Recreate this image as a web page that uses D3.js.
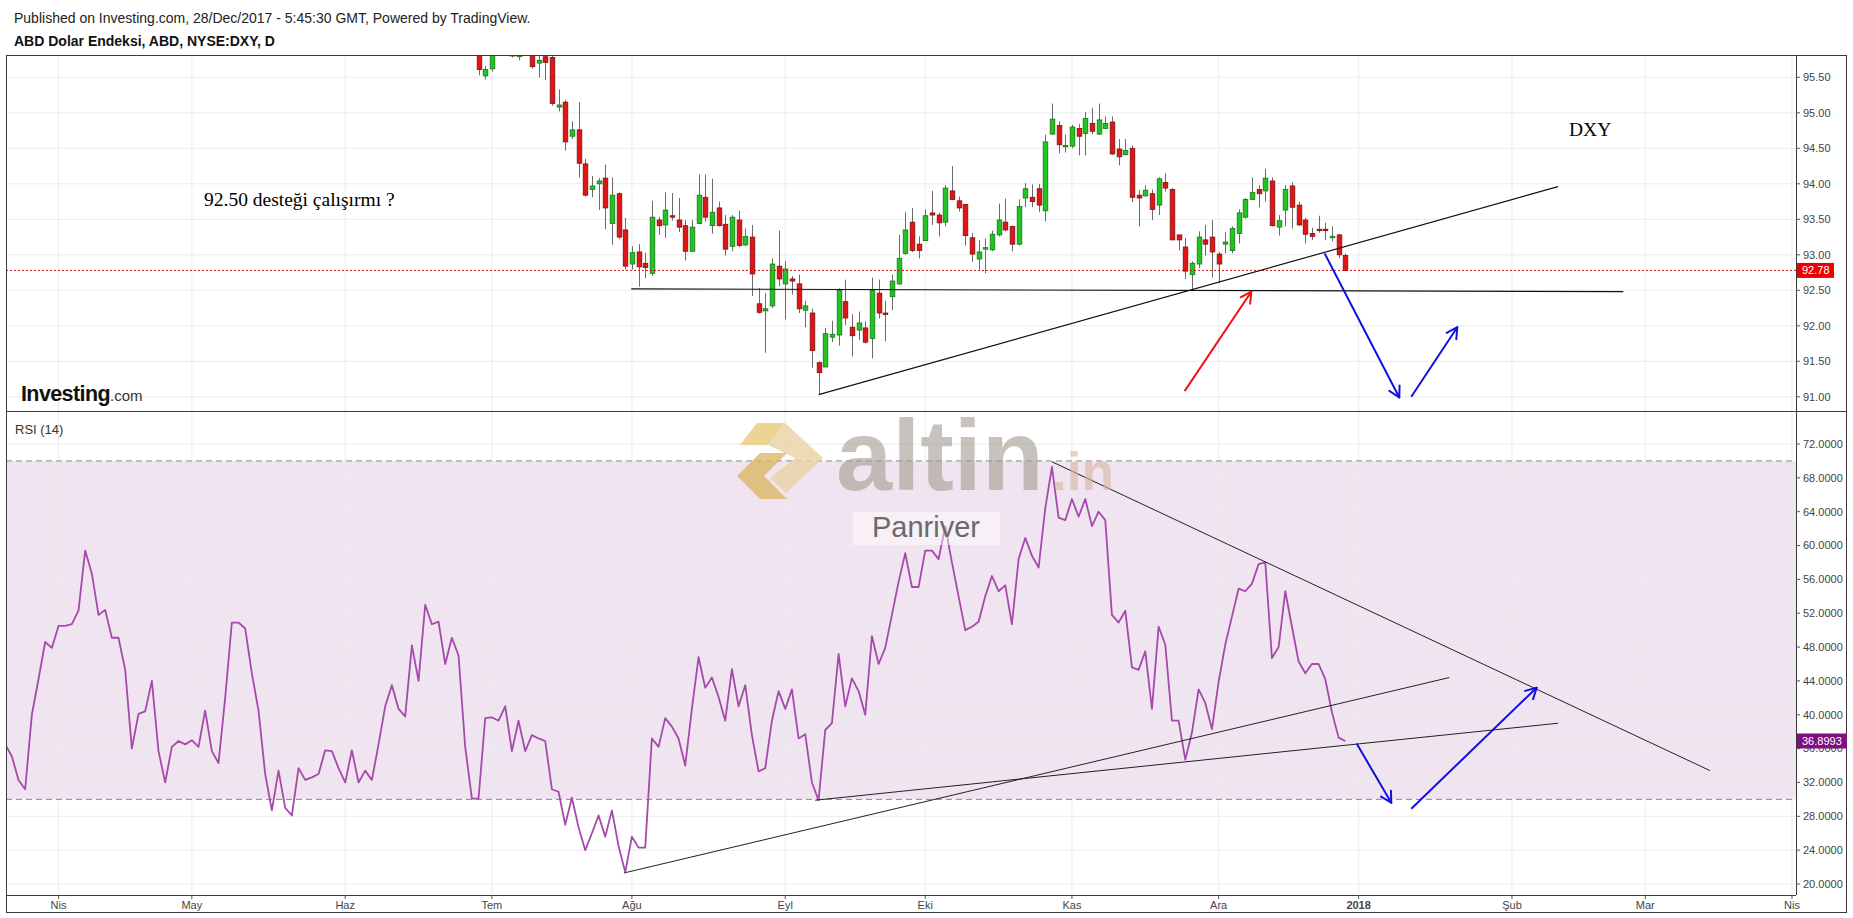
<!DOCTYPE html>
<html><head><meta charset="utf-8">
<script src="https://cdn.jsdelivr.net/npm/d3@7"></script>
<style>
body{margin:0;background:#fff;}
svg{display:block;font-family:Arial,"Liberation Sans",sans-serif;}
</style>
</head><body>
<svg id="c" width="1853" height="918"></svg>
<script>
// ---------------- DATA ----------------
// trading-day index 0 = 2017-04-03 (weekdays only)
const candleStartIndex = 63; // 2017-06-29
const open  = [96.00,95.52,95.62,96.03,96.10,96.25,95.79,95.95,96.00,95.70,95.79,95.78,95.08,95.15,94.67,94.76,94.28,93.92,94.00,94.08,93.44,93.86,93.35,92.87,93.04,92.88,92.74,93.49,93.42,93.55,93.49,93.41,93.05,93.44,93.81,93.41,93.66,93.43,93.12,93.49,93.14,93.25,92.31,92.21,92.28,92.84,92.59,92.66,92.59,92.22,92.18,91.48,91.42,91.84,91.87,92.34,91.98,91.94,91.97,91.82,92.46,92.18,92.41,92.59,93.02,93.46,93.15,93.20,93.59,93.56,93.46,93.90,93.76,93.71,93.24,92.94,93.08,93.07,93.28,93.46,93.40,93.15,93.80,93.81,93.93,93.62,94.70,94.82,94.52,94.53,94.78,94.71,94.85,94.70,94.78,94.87,94.49,94.41,94.50,93.84,93.83,93.86,93.70,94.02,93.92,93.28,93.11,92.72,92.87,93.21,93.25,93.01,93.15,93.06,93.30,93.53,93.78,93.92,93.90,94.04,93.39,93.63,93.97,93.70,93.49,93.30,93.36,93.36,93.24,93.28,92.99];
const high  = [96.10,95.66,96.10,96.20,96.35,96.30,96.05,96.10,96.05,95.80,95.82,95.84,95.33,95.18,94.88,95.15,94.35,94.11,94.08,94.27,94.09,93.88,93.52,93.12,93.15,93.03,93.76,93.53,93.88,93.87,93.80,93.49,93.49,94.13,94.13,94.07,93.75,93.56,93.56,93.62,93.37,93.42,92.53,92.46,92.95,93.34,92.91,92.70,92.72,92.35,92.24,91.50,91.97,92.07,92.53,92.65,92.16,92.20,92.06,92.68,92.65,92.35,92.72,93.28,93.60,93.66,93.26,93.64,93.90,93.59,93.98,94.25,93.82,93.71,93.31,93.21,93.23,93.34,93.72,93.79,93.41,93.78,94.01,93.99,94.00,94.69,95.13,94.88,94.69,94.83,94.84,95.01,95.07,95.13,94.95,94.95,94.63,94.63,94.54,93.91,93.98,93.92,94.09,94.15,93.94,93.28,93.24,92.91,93.33,93.42,93.49,93.04,93.32,93.40,93.64,93.80,94.09,93.98,94.21,94.09,93.56,93.98,94.02,93.75,93.52,93.38,93.55,93.45,93.40,93.29,93.02];
const low   = [95.53,95.47,95.58,95.95,95.90,95.78,95.74,95.85,95.62,95.50,95.46,95.10,95.02,94.47,94.63,94.09,93.82,93.81,93.63,93.36,93.14,93.22,92.79,92.79,92.55,92.67,92.70,93.28,93.24,93.48,93.32,92.92,93.05,93.43,93.47,93.30,93.40,92.99,93.05,93.11,93.12,92.42,92.17,91.62,92.25,92.56,92.09,92.44,92.18,91.98,91.41,91.03,91.42,91.77,91.72,92.01,91.57,91.80,91.75,91.54,92.10,91.78,92.22,92.58,93.00,93.04,92.95,93.20,93.42,93.26,93.40,93.77,93.61,93.13,92.90,92.79,92.74,93.05,93.26,93.33,93.05,93.13,93.67,93.67,93.60,93.47,94.69,94.43,94.44,94.50,94.40,94.40,94.70,94.69,94.77,94.41,94.26,94.40,93.74,93.40,93.82,93.49,93.56,93.89,93.21,93.06,92.66,92.51,92.81,92.99,92.68,92.60,93.02,93.02,93.16,93.51,93.77,93.67,93.75,93.40,93.27,93.40,93.37,93.41,93.16,93.21,93.31,93.21,93.19,92.95,92.77];
const close = [95.61,95.61,96.02,96.10,96.25,95.80,95.95,96.00,95.65,95.74,95.71,95.13,95.11,94.59,94.76,94.29,93.84,93.97,94.04,93.66,93.84,93.25,92.84,93.03,92.83,92.82,93.53,93.41,93.63,93.53,93.39,93.05,93.39,93.84,93.53,93.60,93.41,93.08,93.53,93.13,93.26,92.73,92.19,92.24,92.87,92.66,92.80,92.63,92.24,92.28,91.65,91.34,91.89,91.88,92.50,92.11,91.86,92.04,91.77,92.50,92.18,92.16,92.63,92.95,93.35,93.06,93.06,93.55,93.56,93.45,93.94,93.78,93.66,93.27,93.01,93.04,93.10,93.29,93.49,93.35,93.15,93.68,93.93,93.75,93.70,94.59,94.91,94.55,94.54,94.80,94.67,94.92,94.74,94.90,94.85,94.42,94.38,94.47,93.81,93.80,93.91,93.64,94.07,93.94,93.21,93.21,92.77,92.88,93.25,93.15,93.04,92.87,93.18,93.37,93.59,93.78,93.88,93.86,94.08,93.41,93.48,93.92,93.67,93.42,93.29,93.26,93.34,93.34,93.26,93.00,92.78];

const rsiStartIndex = -8; // 2017-03-22
const rsi = [36.5,35.1,32.3,31.2,40.0,44.2,48.6,47.9,
50.5,50.5,50.7,52.3,59.4,56.7,51.8,52.4,49.1,49.1,
45.3,36.0,40.1,40.4,44.0,35.7,32.0,36.2,36.9,36.5,
37.0,36.2,40.5,35.7,34.3,42.0,50.9,50.9,50.2,44.9,
40.5,33.0,28.7,33.4,29.0,28.1,33.7,32.3,32.6,33.0,
35.8,35.7,33.7,32.0,35.8,32.0,33.4,32.3,36.5,41.0,
43.5,40.7,39.8,48.2,44.0,53.0,50.7,51.0,46.0,49.1,
47.0,36.2,30.1,30.1,39.6,39.7,39.3,41.0,35.7,39.3,
35.7,37.6,37.2,36.9,31.2,30.9,27.0,30.2,26.7,24.0,
26.0,28.1,25.6,28.7,24.5,21.4,25.6,24.3,24.3,37.2,
36.2,39.6,38.6,37.2,34.0,40.7,46.8,43.2,44.4,42.1,
39.3,45.4,41.0,43.5,37.6,33.3,33.7,39.3,42.8,40.7,
43.0,37.2,37.7,32.0,29.9,38.2,39.0,47.2,41.0,44.3,
42.8,40.0,49.3,46.0,47.9,51.8,55.7,59.1,55.1,55.1,
59.4,59.4,58.4,62.3,58.0,54.0,50.0,50.4,51.0,54.0,
56.4,54.6,55.3,50.7,58.4,60.9,58.8,57.4,64.4,69.3,
63.3,63.0,65.5,63.4,65.5,62.3,64.0,63.0,51.8,50.9,
52.3,45.6,45.3,47.5,40.7,50.4,48.3,39.3,39.3,34.7,
37.9,43.0,41.4,38.3,43.9,48.3,51.6,54.9,54.6,55.5,
57.8,58.0,46.7,48.0,54.6,50.4,46.3,44.9,46.0,46.0,
44.2,40.3,37.3,36.8993];

const priceTicks = [91.0,91.5,92.0,92.5,93.0,93.5,94.0,94.5,95.0,95.5];
const rsiTicks = [20,24,28,32,36,40,44,48,52,56,60,64,68,72];
const monthTickDates = ["2017-04-03","2017-05-01","2017-06-01","2017-07-03","2017-08-01","2017-09-01","2017-10-02","2017-11-01","2017-12-01","2018-01-01","2018-02-01","2018-03-01","2018-04-02"];
const monthTickLabels = ["Nis","May","Haz","Tem","Ağu","Eyl","Eki","Kas","Ara","2018","Şub","Mar","Nis"];
const lastPrice = 92.78;
const lastRsi = 36.8993;
const rsiBand = [30,70];

// drawings: [tradingDayIndex, value]
const supportLine = [[85.9,92.52],[234.7,92.48]];
const priceTrend  = [[114.0,91.03],[224.9,93.96]];
const redArrow    = [[168.9,91.08],[178.9,92.48]];
const blueDown    = [[189.9,93.02],[201.1,90.99]];
const blueUp      = [[202.9,91.00],[209.8,91.98]];
const rsiTrendDown = [[149.0,69.9],[247.7,33.4]];
const rsiTrendLong = [[84.8,21.3],[208.6,44.4]];
const rsiTrendLow  = [[113.5,29.9],[224.9,39.0]];
const rsiBlueDown  = [[194.7,36.6],[199.9,29.6]];
const rsiBlueUp    = [[202.9,28.9],[221.7,43.2]];

// ---------------- CHART ----------------
const svg = d3.select("#c");
const X0 = 6, X1 = 1796, XR = 1847;
const PT = 55.5, PB = 411.5, RB = 895;

const base = Date.UTC(2017,3,3);
function idx(s){const d=Date.parse(s+"T00:00:00Z");const days=Math.round((d-base)/864e5);const w=Math.floor(days/7);const r=days-w*7;return w*5+Math.min(r,5);}

const x = d3.scaleLinear().domain([-7.875,260.6]).range([X0,X1]);
const yP = d3.scaleLinear().domain([90.793,95.807]).range([PB,PT]);
const yR = d3.scaleLinear().domain([18.70,75.84]).range([RB,PB]);

const defs = svg.append("defs");
defs.append("clipPath").attr("id","cp").append("rect").attr("x",X0).attr("y",PT).attr("width",X1-X0).attr("height",PB-PT);
defs.append("clipPath").attr("id","cr").append("rect").attr("x",X0).attr("y",PB).attr("width",X1-X0).attr("height",RB-PB);

// header
svg.append("text").attr("x",14).attr("y",23).attr("font-size",14).attr("fill","#222")
  .text("Published on Investing.com, 28/Dec/2017 - 5:45:30 GMT, Powered by TradingView.");
svg.append("text").attr("x",14).attr("y",45.5).attr("font-size",14).attr("font-weight","bold").attr("fill","#111")
  .text("ABD Dolar Endeksi, ABD, NYSE:DXY, D");

const tickIdx = monthTickDates.map(idx);
const gridC = "#ebebeb";

// RSI band
svg.append("rect").attr("x",X0).attr("width",X1-X0).attr("y",yR(rsiBand[1])).attr("height",yR(rsiBand[0])-yR(rsiBand[1])).attr("fill","#f1e4f1");

// gridlines
const g = svg.append("g");
tickIdx.forEach(t=>{
  g.append("line").attr("x1",x(t)).attr("x2",x(t)).attr("y1",PT).attr("y2",RB).attr("stroke",gridC);
});
priceTicks.forEach(v=>{
  g.append("line").attr("x1",X0).attr("x2",X1).attr("y1",yP(v)).attr("y2",yP(v)).attr("stroke",gridC);
});
rsiTicks.forEach(v=>{
  g.append("line").attr("x1",X0).attr("x2",X1).attr("y1",yR(v)).attr("y2",yR(v)).attr("stroke",gridC);
});
rsiBand.forEach(v=>{
  svg.append("line").attr("x1",X0).attr("x2",X1).attr("y1",yR(v)).attr("y2",yR(v)).attr("stroke","#8a8a8a").attr("stroke-dasharray","6,4");
});

// candles
const pg = svg.append("g").attr("clip-path","url(#cp)");
const cw = 4.6;
close.forEach((c,k)=>{
  const i = candleStartIndex + k, o = open[k], h = high[k], l = low[k];
  const up = c >= o;
  const cx = Math.round(x(i)) + 0.5;
  pg.append("line").attr("x1",cx).attr("x2",cx).attr("y1",yP(h)).attr("y2",yP(l)).attr("stroke","#6b6b6b").attr("stroke-width",1);
  const top = yP(Math.max(o,c)), bot = yP(Math.min(o,c));
  pg.append("rect").attr("x",cx-cw/2).attr("y",top).attr("width",cw).attr("height",Math.max(1,bot-top))
    .attr("fill",up?"#22c322":"#e01515").attr("stroke",up?"#127a12":"#7d1010").attr("stroke-width",0.8);
});

// last price dotted line
svg.append("line").attr("x1",X0).attr("x2",X1).attr("y1",yP(lastPrice)).attr("y2",yP(lastPrice))
  .attr("stroke","#d01010").attr("stroke-dasharray","2,2").attr("stroke-width",1);

// drawings helpers
function seg(gr, ys, pts, color, w){
  gr.append("line").attr("x1",x(pts[0][0])).attr("y1",ys(pts[0][1])).attr("x2",x(pts[1][0])).attr("y2",ys(pts[1][1]))
    .attr("stroke",color).attr("stroke-width",w);
}
function arrow(gr, ys, pts, color, w){
  seg(gr, ys, pts, color, w);
  const x1=x(pts[0][0]),y1=ys(pts[0][1]),x2=x(pts[1][0]),y2=ys(pts[1][1]);
  const a=Math.atan2(y2-y1,x2-x1), L=12, sp=0.5;
  [a+Math.PI-sp,a+Math.PI+sp].forEach(b=>{
    gr.append("line").attr("x1",x2).attr("y1",y2).attr("x2",x2+L*Math.cos(b)).attr("y2",y2+L*Math.sin(b))
      .attr("stroke",color).attr("stroke-width",w).attr("stroke-linecap","round");
  });
}
const dg = svg.append("g").attr("clip-path","url(#cp)");
seg(dg,yP,supportLine,"#111",1.2);
seg(dg,yP,priceTrend,"#111",1.2);
arrow(dg,yP,redArrow,"#f01010",2);
arrow(dg,yP,blueDown,"#1010e0",2);
arrow(dg,yP,blueUp,"#1010e0",2);

// texts on price panel
svg.append("text").attr("x",204).attr("y",206).attr("font-family","'Liberation Serif','Times New Roman',serif").attr("font-size",19.5).attr("fill","#000").text("92.50 desteği çalışırmı ?");
svg.append("text").attr("x",1569).attr("y",136).attr("font-family","'Liberation Serif','Times New Roman',serif").attr("font-size",19.5).attr("fill","#000").text("DXY");

// Investing.com logo
const lg = svg.append("text").attr("x",21).attr("y",401);
lg.append("tspan").attr("font-size",21.5).attr("font-weight","bold").attr("fill","#111").attr("letter-spacing","-0.6").text("Investing");
lg.append("tspan").attr("font-size",15).attr("fill","#333").text(".com");

// RSI line
const rg = svg.append("g").attr("clip-path","url(#cr)");
const line = d3.line().x((d,k)=>x(rsiStartIndex+k)).y(d=>yR(d));
rg.append("path").datum(rsi).attr("d",line).attr("fill","none").attr("stroke","#a54aab").attr("stroke-width",1.8).attr("stroke-linejoin","round");
seg(rg,yR,rsiTrendDown,"#222",1);
seg(rg,yR,rsiTrendLong,"#222",1);
seg(rg,yR,rsiTrendLow,"#222",1);
arrow(rg,yR,rsiBlueDown,"#1010e0",2);
arrow(rg,yR,rsiBlueUp,"#1010e0",2);

svg.append("text").attr("x",15).attr("y",434).attr("font-size",13).attr("fill","#333").text("RSI (14)");

// watermark
const wm = svg.append("g");
wm.append("polygon").attr("points","740,445 757,423 785,423 768,445").attr("fill","#e8c66f").attr("opacity",0.75);
wm.append("polygon").attr("points","785,423 823,458 786,493 770,478 795,458 768,445").attr("fill","#e9d2a4").attr("opacity",0.8);
wm.append("polygon").attr("points","737,476 760,453 787,453 764,476 787,499 760,499").attr("fill","#dcb667").attr("opacity",0.8);
wm.append("text").attr("x",836).attr("y",490).attr("font-size",101).attr("font-weight","bold").attr("fill","#a59b90").attr("opacity",0.6).text("altin");
wm.append("text").attr("x",1052).attr("y",490).attr("font-size",53).attr("font-weight","bold").attr("fill","#d8b3a3").attr("opacity",0.6).text(".in");
wm.append("rect").attr("x",853).attr("y",512).attr("width",147).attr("height",33).attr("fill","#fff").attr("opacity",0.45);
wm.append("text").attr("x",872).attr("y",537).attr("font-size",29).attr("fill","#6a6a6a").text("Panriver");

// frame
const fr = svg.append("g").attr("fill","none").attr("stroke","#3a3a3a");
fr.append("rect").attr("x",X0+0.5).attr("y",PT).attr("width",XR-X0-1).attr("height",912.5-PT);
fr.append("line").attr("x1",X0).attr("x2",XR).attr("y1",PB).attr("y2",PB);
fr.append("line").attr("x1",X1+0.5).attr("x2",X1+0.5).attr("y1",PT).attr("y2",RB);
fr.append("line").attr("x1",X0).attr("x2",X1).attr("y1",RB+0.5).attr("y2",RB+0.5);

// right axes
const axC = "#555";
priceTicks.forEach(v=>{
  svg.append("line").attr("x1",X1).attr("x2",X1+4).attr("y1",yP(v)).attr("y2",yP(v)).attr("stroke",axC);
  svg.append("text").attr("x",X1+7).attr("y",yP(v)).attr("dy","0.35em").attr("font-size",11).attr("fill","#444").text(v.toFixed(2));
});
rsiTicks.forEach(v=>{
  svg.append("line").attr("x1",X1).attr("x2",X1+4).attr("y1",yR(v)).attr("y2",yR(v)).attr("stroke",axC);
  svg.append("text").attr("x",X1+7).attr("y",yR(v)).attr("dy","0.35em").attr("font-size",11).attr("fill","#444").text(v.toFixed(4));
});
// last value labels
svg.append("rect").attr("x",X1+1).attr("y",yP(lastPrice)-7.5).attr("width",37).attr("height",15).attr("fill","#ee0000");
svg.append("text").attr("x",X1+6).attr("y",yP(lastPrice)).attr("dy","0.35em").attr("font-size",11).attr("fill","#fff").text(lastPrice.toFixed(2));
svg.append("rect").attr("x",X1+1).attr("y",yR(lastRsi)-7.5).attr("width",XR-X1-1).attr("height",15).attr("fill","#80107f");
svg.append("text").attr("x",X1+6).attr("y",yR(lastRsi)).attr("dy","0.35em").attr("font-size",11).attr("fill","#fff").text(lastRsi.toFixed(4));

// bottom axis
tickIdx.forEach((t,k)=>{
  svg.append("line").attr("x1",x(t)).attr("x2",x(t)).attr("y1",RB).attr("y2",RB+4).attr("stroke",axC);
  svg.append("text").attr("x",x(t)).attr("y",909).attr("text-anchor","middle").attr("font-size",11)
    .attr("font-weight",monthTickLabels[k]==="2018"?"bold":"normal").attr("fill","#444").text(monthTickLabels[k]);
});
</script>
</body></html>
